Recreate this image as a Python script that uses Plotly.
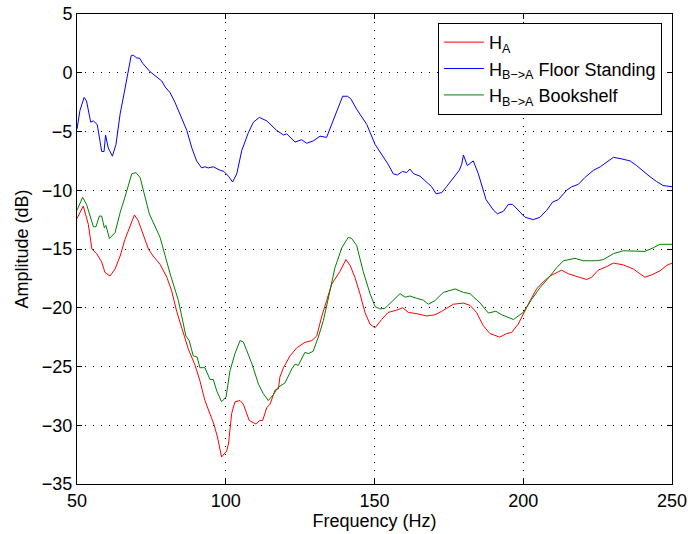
import plotly.graph_objects as go

# Frequency response data (Hz, dB)
freq_ha = [50, 52.1, 53.8, 55, 56.6, 58.3, 59.4, 61.1, 62.8, 64.5, 66.1, 67.8, 69.3, 70.6, 72.1, 74, 75.6,
           77.9, 80.2, 81.8, 83.5, 85.7, 87.4, 89.7, 91.3, 93, 94.7, 96, 97.2, 98.6, 100.3, 100.9, 102,
           103.1, 104.8, 105.9, 107.9, 110.2, 111.3, 112.4, 113.8, 114.9, 116.6, 117.7, 118.2, 119.4,
           121.6, 123.9, 126.6, 128.9, 130.6, 132.2, 133.9, 135.6, 138.4, 140.4, 141.8, 143.4, 145.1,
           146.8, 148.5, 150.2, 152.4, 154.6, 157.5, 159.5, 161.4, 164.2, 167.5, 170.3, 172.6, 176.5,
           179.9, 182.1, 184.3, 186.5, 188.8, 192.1, 194.4, 196.1, 198.3, 200, 202.3, 204.5, 206.7, 209,
           210.7, 212.9, 215.1, 217.9, 221.3, 223, 225.2, 228, 230.3, 233.6, 237, 239.2, 240.9, 243.2,
           246, 248.2, 250]
amp_ha = [-12.4, -11.35, -12.9, -15.0, -15.4, -16.1, -17.0, -17.3, -16.7, -15.6, -14.2, -13.0, -12.1, -12.6,
          -13.6, -15.0, -15.6, -16.3, -17.4, -18.55, -20.3, -22.0, -23.5, -24.9, -26.2, -27.9, -29.0,
          -29.9, -31.0, -32.7, -32.2, -31.6, -29.0, -28.0, -27.9, -28.2, -29.6, -29.9, -29.6, -29.6,
          -28.5, -28.2, -27.0, -26.9, -25.9, -25.1, -24.1, -23.4, -22.95, -22.8, -22.4, -20.8, -19.4,
          -18.0, -16.9, -15.9, -16.4, -17.4, -18.8, -20.4, -21.4, -21.7, -21.0, -20.4, -20.2, -20.0,
          -20.4, -20.5, -20.7, -20.6, -20.3, -19.7, -19.6, -19.8, -20.4, -21.5, -22.2, -22.5, -22.2,
          -22.1, -21.4, -20.5, -19.4, -18.4, -17.8, -17.3, -17.1, -16.8, -17.1, -17.3, -17.6, -17.4,
          -16.8, -16.5, -16.2, -16.35, -16.7, -17.1, -17.4, -17.2, -16.85, -16.4, -16.2]

freq_floor = [50, 51, 52.4, 53.2, 54.6, 55.5, 56.8, 58.3, 59.1, 59.6, 60.5, 61.9, 63.1, 64.5, 65.8, 68.2,
              68.9, 70.1, 71, 72.1, 74.5, 76.8, 78.5, 79.6, 81.3, 82.9, 84.6, 86.9, 88.6, 90.2, 91.9, 93,
              94.1, 95.8, 98.1, 99.4, 100.9, 102.3, 103.7, 105.4, 107.6, 109.3, 111.3, 113.8, 117.1,
              119.4, 120.5, 123.3, 125.5, 127.2, 129.4, 131.7, 133.9, 135.6, 137.5, 139.3, 140.9, 142,
              144, 145.1, 147.4, 150.2, 153, 154.6, 156.3, 157.7, 159.4, 160.8, 161.9, 163.2, 165.3,
              167.5, 169.2, 170.7, 172.6, 174.2, 176.5, 178.5, 179.3, 179.9, 181.2, 183.2, 184.9, 187.5,
              190, 191.3, 193.3, 195, 196.4, 198.3, 200.6, 203.4, 205.6, 207.9, 209.9, 211.8, 214.6,
              216.3, 218.5, 220.8, 223.6, 225.9, 228.1, 230.3, 232.5, 235.9, 238.1, 240.4, 242.6, 244.8,
              247, 250]
amp_floor = [-4.8, -3.2, -2.1, -2.4, -4.2, -4.1, -4.4, -6.7, -6.7, -5.3, -6.4, -7.1, -6.1, -3.5, -1.8, 1.45,
             1.5, 1.25, 1.25, 0.8, 0.1, -0.4, -0.7, -1.2, -1.7, -2.5, -3.5, -4.9, -6.4, -7.5, -8.1, -8.0,
             -8.1, -8.0, -8.3, -8.4, -8.8, -9.3, -8.6, -6.6, -5.1, -4.2, -3.8, -4.1, -4.9, -5.3, -5.2,
             -5.9, -5.7, -6.0, -5.8, -5.4, -5.5, -4.4, -3.1, -2.0, -2.0, -2.2, -3.1, -3.5, -4.4, -6.1,
             -7.2, -7.8, -8.6, -8.7, -8.4, -8.5, -8.2, -8.6, -8.8, -9.3, -9.7, -10.3, -10.2, -9.7, -9.0,
             -8.3, -7.8, -7.0, -7.9, -7.5, -8.6, -10.8, -11.7, -12.0, -11.8, -11.2, -11.2, -11.7, -12.3,
             -12.5, -12.3, -11.7, -11.0, -10.8, -10.0, -9.7, -9.5, -8.9, -8.3, -8.0, -7.6, -7.2, -7.3,
             -7.5, -7.9, -8.4, -8.85, -9.25, -9.6, -9.7]

freq_shelf = [50, 51.9, 53.2, 55.5, 56.4, 57.5, 58.3, 59.2, 59.7, 60.9, 62.8, 64.5, 66.1, 68.4, 69.8, 71.2,
              74.3, 77.9, 81.3, 84.1, 86.6, 87.7, 89.1, 90.4, 91.3, 93, 94.7, 95.8, 97, 98.6, 100.1,
              101.4, 103.1, 104.8, 105.9, 108.7, 111, 112.6, 114.3, 116, 117.5, 119.9, 122.2, 123.3,
              124.4, 126.6, 127.8, 129.4, 131.1, 132.8, 135, 136.7, 139, 141.2, 142.3, 144, 146.2, 148.5,
              150.2, 151.8, 153.5, 155.8, 158.6, 160.3, 161.9, 164.2, 166.4, 168.1, 170.3, 173.1, 177.1,
              179.9, 182.1, 185.5, 188.3, 190.8, 192.8, 196.7, 198.3, 200, 202.8, 205.6, 209, 211.2,
              213.5, 217.4, 220.2, 224.7, 226.9, 230.3, 233.6, 237, 240.9, 243.7, 245.9, 250]
amp_shelf = [-11.7, -10.6, -11.2, -13.1, -13.1, -12.2, -12.2, -13.2, -13.0, -14.1, -13.6, -11.9, -10.6, -8.6,
             -8.5, -8.9, -12.0, -14.0, -17.1, -19.4, -22.4, -22.8, -24.1, -24.2, -25.1, -25.1, -26.1,
             -26.1, -27.1, -28.0, -27.6, -25.4, -23.9, -22.8, -22.9, -24.7, -26.5, -27.3, -27.9, -27.4,
             -26.8, -26.4, -25.2, -24.8, -24.9, -23.8, -23.9, -23.7, -22.5, -21.1, -18.6, -16.6, -14.9,
             -14.0, -14.1, -14.7, -16.9, -18.8, -19.9, -20.1, -20.05, -19.5, -18.8, -19.1, -19.0, -19.2,
             -19.35, -19.7, -19.4, -18.7, -18.4, -18.7, -18.8, -19.6, -20.45, -20.3, -20.6, -21.0, -20.7,
             -20.4, -19.3, -18.3, -17.3, -16.6, -16.0, -15.8, -16.0, -16.0, -15.9, -15.4, -15.15, -15.2,
             -15.2, -14.9, -14.6, -14.6]

x_ticks = [50, 100, 150, 200, 250]
y_ticks = [-35, -30, -25, -20, -15, -10, -5, 0, 5]

FONT = "Liberation Sans, Arial, Helvetica, sans-serif"
FS = 18

fig = go.Figure()
fig.add_trace(go.Scatter(x=freq_ha, y=amp_ha, mode="lines", name="H<sub>A</sub>",
                         line=dict(color="#ff0000", width=1)))
fig.add_trace(go.Scatter(x=freq_floor, y=amp_floor, mode="lines",
                         name="H<sub>B\u2212>A</sub> Floor Standing",
                         line=dict(color="#0000ff", width=1)))
fig.add_trace(go.Scatter(x=freq_shelf, y=amp_shelf, mode="lines",
                         name="H<sub>B\u2212>A</sub> Bookshelf",
                         line=dict(color="#008000", width=1)))

axis_common = dict(
    showline=True, linecolor="black", linewidth=1, mirror="ticks",
    ticks="inside", ticklen=5, tickcolor="black", tickwidth=1,
    showgrid=True, gridcolor="black", gridwidth=0.6, griddash="1px,7px",
    zeroline=False, automargin=False,
    tickfont=dict(family=FONT, size=FS, color="black"),
)

fig.update_xaxes(range=[50, 250], tickvals=x_ticks,
                 title=dict(text="Frequency (Hz)", font=dict(family=FONT, size=FS, color="black"),
                            standoff=4),
                 **axis_common)
fig.update_yaxes(range=[-35, 5], tickvals=y_ticks,
                 title=dict(text="Amplitude (dB)", font=dict(family=FONT, size=FS, color="black"),
                            standoff=8),
                 **axis_common)

fig.update_layout(
    width=688, height=534,
    margin=dict(l=77, r=16, t=14, b=50),
    paper_bgcolor="white", plot_bgcolor="white",
    font=dict(family=FONT, size=FS, color="black"),
    showlegend=True,
    legend=dict(x=0.983, y=0.981, xanchor="right", yanchor="top",
                bgcolor="white", bordercolor="black", borderwidth=1,
                font=dict(family=FONT, size=FS, color="black"),
                tracegroupgap=0, itemwidth=40),
)

fig.write_html("out.html")
